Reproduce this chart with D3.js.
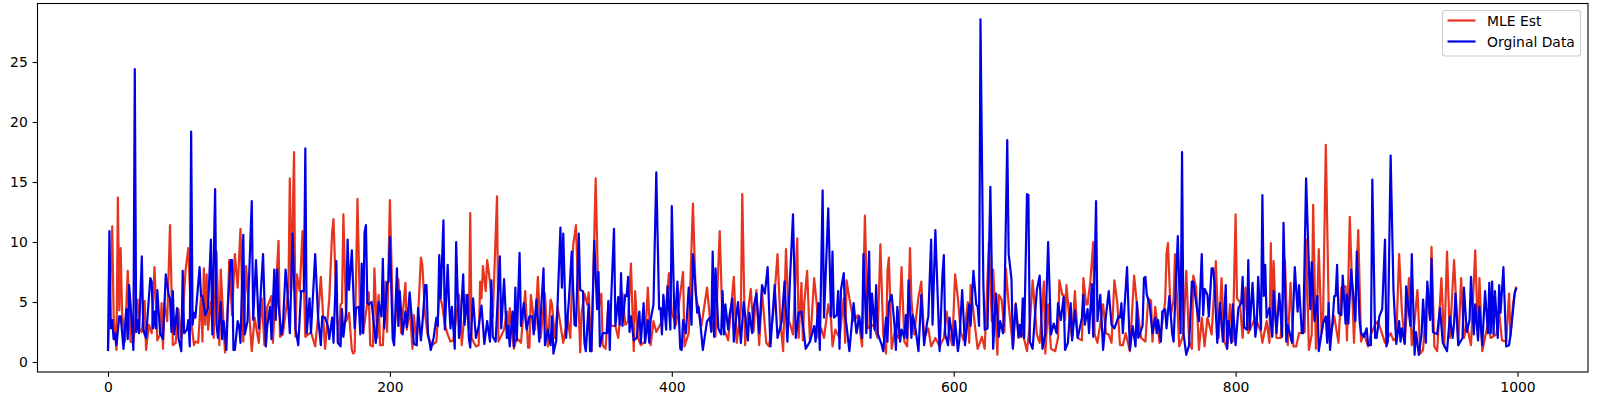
<!DOCTYPE html>
<html><head><meta charset="utf-8">
<script src="https://cdn.jsdelivr.net/npm/d3@7"></script>
<style>html,body{margin:0;padding:0;background:#fff}svg{display:block}text{font-family:"DejaVu Sans",sans-serif;font-size:13.9px;fill:#000}</style>
</head><body><svg id="c" width="1597" height="402"></svg>
<script>
const xTicks=[0,200,400,600,800,1000];
const yTicks=[0,5,10,15,20,25];
const legendLabels=["MLE Est","Orginal Data"];
const mleEst=[[0,1.0],[3,11.3],[4,3.8],[6,1.0],[7,13.7],[8,4.3],[9,9.5],[10,4.1],[12,1.7],[14,7.6],[16,1.7],[18,1.6],[21,5.2],[22,2.8],[24,2.5],[26,5.1],[27,1.0],[29,3.1],[31,2.4],[33,7.9],[35,1.8],[37,2.3],[38,4.9],[39,1.1],[40,4.9],[42,3.4],[44,11.4],[46,1.4],[48,1.6],[50,4.4],[52,2.0],[55,7.6],[57,9.5],[59,3.4],[61,1.4],[62,1.7],[64,1.6],[66,5.6],[67,1.7],[68,7.8],[69,3.1],[70,7.3],[71,2.7],[73,5.0],[75,2.0],[77,9.2],[79,1.4],[80,7.7],[83,0.8],[85,4.5],[86,8.5],[88,3.9],[90,9.0],[92,6.2],[94,11.1],[96,1.7],[98,8.0],[102,0.9],[104,3.7],[107,1.6],[109,5.3],[111,1.4],[113,4.6],[116,5.5],[117,1.6],[121,10.1],[122,2.1],[124,2.3],[128,5.9],[129,15.3],[130,6.0],[132,17.5],[133,2.1],[134,7.3],[136,5.9],[138,10.9],[140,2.1],[144,2.5],[147,1.3],[149,3.7],[151,7.1],[154,1.1],[157,5.3],[159,10.8],[160,11.9],[162,4.8],[164,1.7],[165,4.8],[166,4.9],[167,12.3],[169,3.4],[171,4.1],[173,1.0],[174,0.7],[175,0.9],[177,13.6],[179,2.7],[181,2.4],[185,5.8],[186,1.4],[188,1.3],[189,7.8],[191,2.0],[192,5.6],[193,1.4],[195,1.4],[197,6.7],[198,2.5],[200,13.5],[202,4.1],[203,2.0],[206,6.9],[208,2.4],[211,6.6],[212,2.7],[214,4.5],[216,1.1],[217,3.9],[219,1.4],[222,8.7],[223,8.1],[225,3.9],[227,2.1],[230,1.4],[233,1.7],[235,5.6],[237,4.8],[239,3.1],[241,2.3],[243,1.7],[245,1.8],[249,5.6],[251,1.4],[254,5.6],[256,2.7],[257,12.4],[258,2.0],[261,1.3],[263,1.4],[264,6.7],[265,5.3],[266,8.0],[268,5.9],[269,8.5],[271,6.7],[273,3.7],[276,13.8],[277,1.7],[281,2.7],[283,4.2],[284,2.0],[285,4.5],[288,1.1],[290,2.0],[293,1.6],[296,5.9],[298,1.2],[299,1.2],[300,5.6],[303,2.7],[305,7.1],[307,2.0],[310,5.7],[312,1.3],[314,5.2],[315,4.8],[317,2.0],[319,4.6],[323,1.6],[325,3.0],[326,3.7],[328,2.0],[330,9.7],[332,11.4],[335,0.8],[336,4.1],[338,5.7],[340,4.8],[341,5.8],[343,0.9],[346,15.3],[348,4.4],[350,5.7],[351,1.4],[353,1.1],[355,4.9],[357,3.0],[360,3.0],[362,2.0],[365,5.7],[367,3.1],[369,3.4],[371,8.2],[373,0.9],[374,5.9],[376,2.0],[378,1.4],[381,1.7],[383,6.2],[385,1.4],[387,3.4],[389,2.5],[393,3.4],[396,4.8],[398,7.4],[400,4.1],[403,3.1],[405,4.8],[408,7.5],[409,1.3],[412,2.4],[415,13.2],[417,5.6],[421,3.0],[425,6.2],[427,3.7],[431,2.1],[434,10.9],[436,3.1],[440,1.8],[444,7.1],[446,1.6],[449,4.4],[450,14.0],[452,1.4],[454,4.1],[456,6.1],[458,2.5],[460,6.0],[462,1.4],[464,5.9],[467,1.6],[469,1.3],[472,4.1],[475,9.0],[477,3.4],[479,0.9],[481,9.4],[483,3.5],[486,2.3],[489,10.3],[490,2.0],[492,6.6],[493,1.8],[494,4.9],[496,7.6],[498,1.7],[499,3.1],[501,7.0],[503,4.6],[504,2.0],[506,2.8],[508,2.0],[511,4.8],[513,3.5],[514,1.3],[516,2.7],[519,2.0],[522,5.3],[523,1.6],[524,6.8],[526,5.3],[529,3.4],[532,3.9],[535,1.3],[537,12.2],[539,2.8],[543,3.1],[546,2.0],[548,9.8],[550,2.3],[552,0.7],[553,7.6],[554,8.7],[556,1.1],[558,2.4],[561,2.0],[563,7.9],[565,1.7],[567,1.3],[569,9.5],[570,5.2],[572,2.3],[575,5.4],[577,6.7],[579,2.0],[582,2.8],[584,1.3],[587,2.0],[590,1.3],[593,2.0],[595,4.2],[597,2.3],[599,1.4],[601,7.3],[603,5.3],[605,2.5],[607,1.8],[610,5.0],[611,1.6],[612,6.4],[615,3.1],[617,1.1],[620,2.1],[622,1.1],[625,10.0],[627,3.4],[628,7.7],[631,0.6],[632,5.6],[634,5.2],[636,2.5],[637,7.8],[639,4.8],[642,1.2],[644,4.9],[646,2.0],[649,2.4],[652,0.9],[654,3.1],[656,6.8],[659,2.3],[661,1.6],[664,6.7],[665,0.7],[667,4.8],[669,1.1],[672,0.9],[674,2.0],[675,6.8],[677,5.6],[678,5.6],[679,3.5],[680,6.4],[682,3.7],[684,2.0],[686,5.9],[688,2.0],[691,1.8],[692,7.0],[694,4.8],[695,4.8],[697,6.8],[699,10.0],[700,2.3],[702,1.6],[706,4.8],[708,2.4],[710,2.3],[712,1.6],[714,6.8],[716,5.0],[718,1.4],[720,1.4],[722,2.4],[725,0.9],[728,7.2],[730,4.8],[733,2.0],[736,1.7],[738,5.3],[740,5.1],[741,1.7],[743,4.6],[746,1.6],[750,5.0],[751,9.0],[752,9.9],[754,3.9],[756,5.2],[757,9.0],[760,1.3],[763,2.3],[765,7.6],[767,1.7],[769,1.1],[770,7.2],[772,6.2],[774,1.0],[776,3.7],[778,1.3],[780,3.7],[783,2.3],[786,8.4],[788,2.0],[790,7.0],[792,1.7],[794,1.1],[796,4.8],[798,1.7],[800,12.3],[801,5.3],[803,5.0],[805,2.0],[807,6.2],[809,2.4],[814,3.7],[818,2.5],[819,1.6],[822,3.4],[824,1.6],[825,9.9],[826,2.4],[827,8.4],[829,2.0],[832,2.0],[835,8.5],[837,1.4],[839,6.6],[841,1.3],[843,1.3],[845,2.4],[849,2.5],[850,10.2],[852,1.0],[854,2.3],[855,13.1],[857,1.1],[859,9.4],[861,2.4],[862,3.2],[864,18.1],[866,4.8],[867,2.0],[870,3.8],[873,1.6],[875,6.2],[878,6.3],[879,1.8],[881,12.1],[883,5.0],[884,1.6],[887,11.0],[889,1.7],[891,2.4],[894,1.3],[896,2.3],[899,3.1],[901,3.4],[906,1.6],[910,2.4],[912,1.8],[914,2.0],[916,9.0],[918,4.2],[920,1.6],[923,7.0],[925,1.4],[927,3.4],[929,6.0],[931,0.7],[933,1.0],[936,6.2],[938,3.5],[939,9.6],[941,1.3],[943,0.9],[946,7.0],[948,1.3],[950,9.2],[952,2.0],[955,8.5],[958,1.4],[960,7.0],[962,2.0],[964,3.1],[967,1.4],[970,9.3],[972,2.0],[973,7.0],[975,0.9],[979,3.2],[981,2.0],[985,2.3],[987,4.1],[989,1.8],[992,1.7],[994,5.7],[995,2.2],[997,5.0],[999,6.2]];
const orginalData=[[0,1.0],[1,10.9],[2,2.8],[3,3.5],[4,1.9],[5,2.4],[6,1.4],[8,3.8],[9,3.8],[11,1.1],[13,4.4],[14,1.9],[15,6.4],[16,4.8],[18,1.0],[19,24.4],[20,2.5],[21,3.5],[22,2.4],[24,8.8],[25,2.8],[26,2.3],[27,2.0],[30,7.0],[31,6.7],[32,2.8],[33,4.2],[34,2.8],[35,6.0],[36,4.1],[37,2.4],[39,1.9],[41,7.3],[43,5.6],[44,5.3],[45,2.5],[46,5.9],[47,2.3],[49,4.5],[50,2.0],[52,0.9],[53,7.6],[54,2.4],[56,2.7],[57,3.5],[58,1.3],[59,19.2],[60,3.1],[61,4.1],[62,3.7],[65,7.9],[66,5.5],[67,5.5],[69,3.9],[71,4.5],[73,10.2],[74,2.3],[76,14.4],[77,3.1],[78,2.0],[80,5.0],[81,1.9],[82,3.4],[84,1.0],[85,4.6],[87,8.5],[88,8.5],[89,1.0],[90,1.0],[92,3.4],[93,3.0],[94,1.6],[96,10.6],[97,2.3],[99,3.4],[102,13.4],[103,3.5],[105,8.5],[107,2.8],[109,7.0],[110,9.0],[112,1.3],[113,3.0],[115,4.6],[116,1.9],[118,7.7],[119,3.5],[120,7.7],[121,4.8],[123,2.3],[124,2.8],[126,7.7],[127,6.4],[129,2.4],[131,10.7],[133,2.8],[135,1.4],[137,5.9],[139,5.9],[140,17.8],[141,2.4],[143,5.3],[144,2.4],[147,9.0],[149,3.8],[151,1.4],[152,3.8],[154,3.7],[156,3.0],[157,1.9],[159,3.7],[160,1.6],[162,8.4],[163,1.6],[165,1.3],[166,4.4],[167,2.1],[169,4.2],[170,10.2],[171,6.0],[173,9.3],[175,2.8],[176,4.5],[178,4.6],[179,2.3],[180,8.2],[181,2.4],[182,10.8],[183,11.4],[184,4.9],[185,4.8],[187,5.0],[190,1.6],[192,5.0],[194,3.8],[195,8.6],[196,2.8],[198,6.6],[199,6.7],[200,10.4],[202,1.9],[203,1.4],[205,7.8],[206,3.0],[207,5.9],[209,2.3],[211,4.2],[212,2.9],[214,5.8],[216,3.0],[217,1.5],[219,1.4],[220,4.5],[222,1.8],[223,3.1],[225,6.4],[226,6.4],[227,2.4],[229,1.0],[231,2.0],[233,3.7],[234,3.0],[235,8.9],[236,5.3],[238,11.8],[239,2.7],[241,8.1],[242,4.8],[243,2.8],[244,4.6],[246,1.1],[247,10.0],[249,2.0],[250,3.0],[252,7.3],[253,3.1],[255,5.6],[256,2.0],[257,1.2],[259,5.3],[261,2.0],[263,3.0],[265,4.7],[267,1.5],[269,3.4],[271,1.7],[272,6.8],[273,2.1],[275,1.7],[278,8.8],[279,2.8],[281,6.9],[283,2.0],[284,3.0],[285,1.3],[287,4.2],[288,1.3],[289,6.2],[290,1.8],[292,9.1],[293,3.0],[295,4.9],[297,2.7],[299,3.8],[301,3.8],[302,2.3],[304,5.2],[306,1.7],[307,3.8],[309,7.8],[310,1.4],[312,2.7],[314,1.4],[315,3.8],[316,0.7],[318,1.8],[321,11.2],[322,6.2],[323,10.7],[325,2.0],[327,5.2],[329,9.2],[331,3.1],[332,3.0],[334,10.7],[335,6.0],[337,5.9],[338,1.6],[339,0.9],[341,4.8],[342,0.9],[343,0.9],[345,10.1],[347,4.4],[348,7.5],[349,1.3],[351,2.4],[354,2.4],[355,5.1],[356,1.0],[357,5.3],[359,11.1],[360,3.0],[362,5.4],[363,3.1],[364,7.4],[365,3.0],[367,5.6],[368,5.5],[369,7.1],[370,2.5],[371,3.8],[373,1.8],[375,2.0],[377,4.2],[378,1.6],[380,4.9],[381,1.6],[383,3.5],[384,1.6],[385,3.5],[387,4.8],[389,15.8],[391,4.4],[392,4.5],[393,2.3],[394,5.6],[396,2.7],[397,6.3],[399,2.7],[400,13.0],[402,2.8],[404,6.7],[406,1.1],[407,1.0],[408,3.5],[410,2.4],[412,6.2],[414,3.1],[415,9.0],[417,5.9],[418,4.1],[419,4.6],[421,2.3],[422,1.0],[425,3.4],[427,3.7],[428,2.5],[429,9.2],[430,2.1],[431,7.8],[433,2.8],[435,2.3],[436,5.9],[437,2.3],[438,4.8],[440,2.7],[441,3.9],[443,5.3],[444,1.7],[446,4.1],[447,5.0],[449,1.6],[451,5.0],[454,1.8],[455,4.1],[457,2.4],[458,4.5],[460,5.7],[462,2.4],[464,6.4],[466,5.7],[468,7.9],[470,1.3],[473,6.4],[475,2.0],[478,3.4],[480,6.7],[482,1.7],[484,7.3],[486,12.3],[488,2.0],[490,4.1],[492,4.2],[495,1.1],[498,1.7],[501,3.0],[502,1.7],[504,4.9],[505,1.0],[507,14.3],[508,3.7],[511,12.8],[513,3.8],[514,9.2],[515,3.7],[517,3.9],[518,5.9],[519,1.1],[520,6.0],[522,7.4],[523,3.8],[524,3.0],[526,0.9],[529,4.9],[531,2.4],[533,3.8],[535,2.0],[536,9.0],[538,2.4],[540,9.2],[541,2.0],[542,5.7],[544,2.7],[545,6.4],[546,2.4],[549,1.4],[550,0.9],[552,3.7],[553,1.7],[554,4.9],[556,5.6],[558,3.1],[559,1.0],[560,4.6],[562,1.7],[563,2.7],[565,2.0],[566,3.9],[567,2.0],[568,6.8],[570,2.0],[571,3.9],[573,2.7],[575,0.9],[577,5.6],[579,1.4],[581,3.2],[582,3.8],[584,10.2],[585,3.1],[587,11.0],[590,0.9],[592,7.2],[593,8.9],[594,2.3],[596,1.4],[597,3.7],[600,1.4],[601,3.4],[603,0.9],[604,1.8],[606,6.0],[608,1.4],[611,4.8],[612,3.0],[614,7.6],[616,4.8],[617,4.6],[618,3.0],[619,28.55],[621,6.7],[622,2.7],[624,2.8],[626,14.6],[628,1.1],[630,5.7],[632,2.1],[633,3.4],[635,2.4],[636,4.8],[638,18.5],[639,9.0],[641,6.9],[642,1.1],[644,4.8],[646,2.1],[647,3.1],[648,2.1],[649,5.3],[650,2.0],[652,14.0],[653,13.9],[654,1.7],[656,1.1],[659,6.0],[661,7.2],[663,1.1],[665,2.4],[667,10.0],[669,2.3],[671,3.2],[673,2.4],[674,4.9],[676,3.5],[678,5.4],[679,1.0],[681,1.6],[683,4.9],[684,1.8],[686,4.3],[688,2.0],[691,3.7],[692,5.6],[693,3.1],[695,4.4],[696,2.4],[698,6.5],[699,2.1],[701,13.4],[702,3.4],[704,5.6],[706,1.0],[708,3.8],[710,5.9],[712,3.1],[714,2.8],[717,3.8],[718,3.7],[719,4.9],[720,2.4],[723,7.9],[725,1.0],[727,3.0],[729,1.3],[730,5.0],[731,2.0],[734,3.0],[735,7.0],[736,7.1],[737,5.6],[739,4.8],[741,2.4],[743,3.7],[744,2.4],[745,3.5],[747,1.7],[748,4.2],[750,4.4],[751,2.8],[753,5.5],[755,2.4],[756,1.7],[759,10.5],[761,2.4],[762,17.5],[763,2.4],[765,0.6],[767,1.4],[769,6.7],[770,6.7],[773,4.1],[774,3.4],[776,9.0],[777,3.9],[778,6.1],[780,5.6],[781,3.8],[783,7.8],[784,7.8],[785,6.6],[787,1.6],[789,4.9],[791,1.7],[793,6.4],[794,1.1],[795,3.4],[797,1.6],[798,4.8],[800,1.4],[802,4.5],[804,4.9],[805,7.1],[806,2.9],[808,2.7],[809,8.5],[810,2.7],[812,6.6],[814,2.1],[815,3.1],[816,7.1],[818,2.7],[819,13.9],[820,5.5],[821,8.1],[822,3.7],[824,4.5],[826,2.1],[827,5.9],[829,2.4],[831,5.7],[833,2.1],[834,11.6],[836,1.7],[837,3.1],[839,2.1],[840,1.6],[842,7.9],[844,4.2],[845,6.4],[847,2.4],[848,2.4],[850,15.3],[852,8.0],[853,4.4],[854,8.3],[856,3.4],[858,5.5],[859,0.9],[862,3.2],[864,3.8],[865,1.6],[866,4.9],[867,1.0],[869,3.7],[870,5.5],[871,5.5],[872,8.1],[873,4.1],[875,3.9],[876,7.2],[878,3.2],[879,5.6],[880,3.2],[882,7.7],[885,3.4],[886,9.2],[888,3.4],[889,2.4],[891,2.1],[893,2.8],[894,1.4],[896,1.4],[897,15.2],[899,2.0],[900,2.0],[902,3.8],[904,4.4],[906,10.2],[907,1.3],[908,1.7],[910,17.2],[912,6.0],[914,1.5],[916,3.4],[917,1.7],[918,2.8],[920,1.5],[921,6.3],[924,3.0],[925,9.0],[927,0.6],[928,2.5],[930,0.6],[932,2.4],[933,5.2],[935,1.6],[936,6.7],[938,3.5],[939,8.6],[940,2.5],[943,2.3],[945,4.5],[947,1.6],[950,0.9],[952,3.8],[954,2.0],[955,3.2],[956,5.7],[958,1.4],[961,2.0],[962,6.2],[964,2.5],[966,3.5],[967,7.1],[969,2.3],[970,4.8],[972,1.8],[973,4.6],[975,1.4],[977,5.9],[979,2.4],[980,6.6],[981,2.4],[982,6.7],[983,2.3],[984,5.9],[986,2.0],[987,6.4],[988,4.1],[990,7.9],[992,1.3],[994,1.4],[995,2.2],[997,4.5],[998,5.8],[999,6.1]];

const L=37.5,R=1588,T=3.5,B=372;
const x=d3.scaleLinear().domain([0,1000]).range([108,1517.5]);
const y=d3.scaleLinear().domain([0,25]).range([362,62]);
const svg=d3.select("#c");
const line=d3.line().x(d=>x(d[0])).y(d=>y(d[1]));
const series=[{d:mleEst,c:"#e6341f"},{d:orginalData,c:"#0000e6"}];
svg.selectAll("path.s").data(series).join("path").attr("class","s").attr("d",d=>line(d.d)).attr("fill","none").attr("stroke",d=>d.c).attr("stroke-width",2.2).attr("stroke-linejoin","round").attr("stroke-linecap","square");
const ax=svg.append("g").attr("transform",`translate(0,${B})`).call(d3.axisBottom(x).tickValues(xTicks).tickSize(4.86).tickPadding(4.9).tickFormat(d3.format("d")));
const ay=svg.append("g").attr("transform",`translate(${L},0)`).call(d3.axisLeft(y).tickValues(yTicks).tickSize(4.86).tickPadding(4.9).tickFormat(d3.format("d")));
for(const a of [ax,ay]){a.select(".domain").remove();a.selectAll("line").attr("stroke","#000").attr("stroke-width",1.1);a.selectAll("text").style("font-family",'"DejaVu Sans"').style("font-size","13.9px").attr("fill","#000");}
svg.append("rect").attr("x",L).attr("y",T).attr("width",R-L).attr("height",B-T).attr("fill","none").attr("stroke","#000").attr("stroke-width",1.1);
const lg=svg.append("g");
lg.append("rect").attr("x",1442.5).attr("y",10.5).attr("width",138).attr("height",45.5).attr("rx",3).attr("fill","#fff").attr("fill-opacity",.8).attr("stroke","#ccc").attr("stroke-width",1.1);
legendLabels.forEach((t,i)=>{const ly=20.5+i*21;
 lg.append("line").attr("x1",1447.5).attr("x2",1475.5).attr("y1",ly).attr("y2",ly).attr("stroke",series[i].c).attr("stroke-width",2.2);
 lg.append("text").attr("x",1487).attr("y",ly+5).text(t);});
</script></body></html>
